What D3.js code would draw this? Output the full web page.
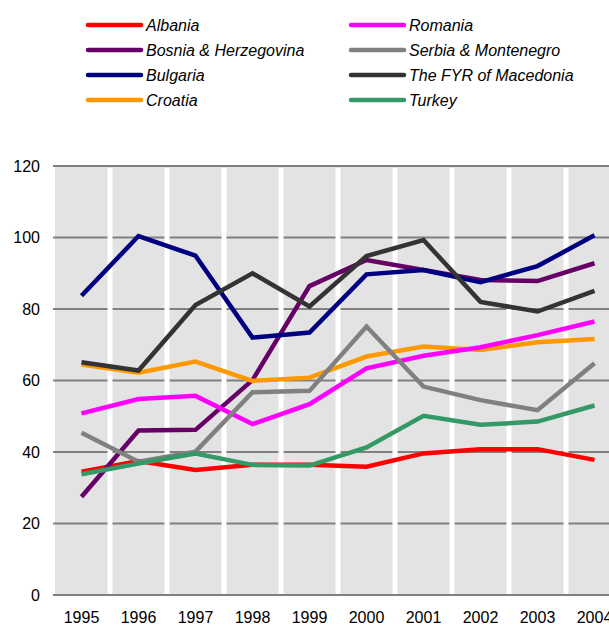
<!DOCTYPE html>
<html>
<head>
<meta charset="utf-8">
<script src="https://cdn.jsdelivr.net/npm/d3@7"></script>
<style>
  body { margin: 0; background: #fff; overflow: hidden; }
  svg { display: block; font-family: "Liberation Sans", Arial, sans-serif; }
</style>
</head>
<body>
<svg id="chart"></svg>
<script>
const years = ['1995', '1996', '1997', '1998', '1999', '2000', '2001', '2002', '2003', '2004'];
const yTicks = [0, 20, 40, 60, 80, 100, 120];

const albania = [34.5, 37.5, 35.0, 36.4, 36.4, 35.9, 39.6, 40.8, 40.8, 37.8];
const bosnia = [27.5, 46.0, 46.2, 60.1, 86.4, 93.7, 90.9, 88.1, 87.8, 92.8];
const bulgaria = [83.7, 100.4, 94.9, 72.0, 73.4, 89.7, 90.9, 87.5, 92.0, 100.6];
const croatia = [64.5, 62.2, 65.3, 59.9, 60.8, 66.7, 69.5, 68.5, 70.7, 71.6];
const romania = [50.8, 54.8, 55.7, 47.8, 53.4, 63.4, 66.9, 69.3, 72.7, 76.5];
const serbia = [45.4, 37.3, 40.1, 56.7, 57.1, 75.1, 58.3, 54.5, 51.7, 64.8];
const macedonia = [65.1, 62.8, 81.1, 90.0, 80.7, 94.8, 99.3, 82.0, 79.3, 85.1];
const turkey = [33.8, 36.8, 39.6, 36.4, 36.2, 41.3, 50.1, 47.6, 48.5, 53.0];

const seriesNames = ['Albania', 'Bosnia & Herzegovina', 'Bulgaria', 'Croatia',
  'Romania', 'Serbia & Montenegro', 'The FYR of Macedonia', 'Turkey'];
const seriesValues = [albania, bosnia, bulgaria, croatia, romania, serbia, macedonia, turkey];
const seriesColors = ['#ff0000', '#660066', '#000080', '#ff9900',
  '#ff00ff', '#808080', '#333333', '#339966'];

const series = seriesNames.map((name, i) => ({ name, values: seriesValues[i], color: seriesColors[i] }));

const width = 609, height = 626;
const svg = d3.select('#chart').attr('width', width).attr('height', height);

const x = d3.scaleBand().domain(years).range([53, 623]);
const y = d3.scaleLinear().domain([0, 120]).range([595, 166]);

// plot background
svg.append('rect')
  .attr('x', 55).attr('y', y(120))
  .attr('width', 623 - 55).attr('height', y(0) - y(120))
  .attr('fill', '#e3e3e3');

// horizontal gridlines
svg.append('g')
  .selectAll('line')
  .data(yTicks)
  .enter()
  .append('line')
  .attr('x1', 53).attr('x2', 623)
  .attr('y1', d => y(d)).attr('y2', d => y(d))
  .attr('stroke', '#808080')
  .attr('stroke-width', 2);

// white separators between categories
svg.append('g')
  .selectAll('line')
  .data(years.slice(1))
  .enter()
  .append('line')
  .attr('x1', d => x(d)).attr('x2', d => x(d))
  .attr('y1', y(120) + 2).attr('y2', y(0) - 1)
  .attr('stroke', '#fff')
  .attr('stroke-width', 5);

// y labels
svg.append('g')
  .selectAll('text')
  .data(yTicks)
  .enter()
  .append('text')
  .attr('x', 40)
  .attr('y', d => y(d))
  .attr('dy', '0.35em')
  .attr('text-anchor', 'end')
  .style('font-size', '16px')
  .attr('fill', '#000')
  .text(d => d);

// x labels
svg.append('g')
  .selectAll('text')
  .data(years)
  .enter()
  .append('text')
  .attr('x', d => x(d) + x.bandwidth() / 2)
  .attr('y', 623)
  .attr('text-anchor', 'middle')
  .style('font-size', '16px')
  .attr('fill', '#000')
  .text(d => d);

const line = d3.line()
  .x((d, i) => x(years[i]) + x.bandwidth() / 2)
  .y(d => y(d));

series.forEach(s => {
  svg.append('path')
    .datum(s.values)
    .attr('fill', 'none')
    .attr('stroke', s.color)
    .attr('stroke-width', 4.5)
    .attr('stroke-linejoin', 'miter')
    .attr('d', line);
});

// legend, two columns of four
const legend = svg.append('g');
const items = legend.selectAll('g')
  .data(series)
  .enter()
  .append('g')
  .attr('transform', (d, i) => `translate(${i < 4 ? 88 : 351}, ${25 + (i % 4) * 25})`);

items.append('line')
  .attr('x1', 0).attr('x2', 53)
  .attr('stroke', d => d.color)
  .attr('stroke-width', 4.5)
  .attr('stroke-linecap', 'round');

items.append('text')
  .attr('x', 58)
  .attr('dy', '0.36em')
  .style('font-size', '16px')
  .style('font-style', 'italic')
  .attr('fill', '#000')
  .text(d => d.name);
</script>
</body>
</html>
